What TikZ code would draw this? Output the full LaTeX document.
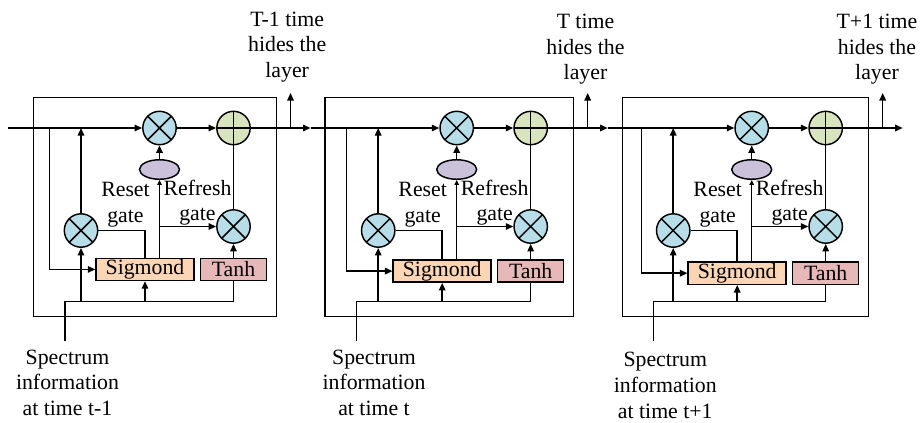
\documentclass[tikz,border=0pt]{standalone}
\usepackage{fontspec}
\setmainfont{Liberation Serif}
\usetikzlibrary{arrows.meta,shapes.geometric}
\definecolor{multfill}{HTML}{B7DEE8}
\definecolor{plusfill}{HTML}{D7E4BD}
\definecolor{ovalfill}{HTML}{CCC1DA}
\definecolor{sigfill}{HTML}{FCD5B5}
\definecolor{tanhfill}{HTML}{E6B9B8}
\begin{document}
\begin{tikzpicture}[x=1pt,y=-1pt,line width=1.45pt,
  >={Triangle[length=7.5pt,width=6.5pt]},
  txt/.style={font=\fontsize{21.8}{25.7}\selectfont},
  % multi-line labels are placed by the baseline of their last line
  lbl/.style={txt,align=center,inner sep=0pt,anchor=base},
  mult/.style={circle,draw,fill=multfill,minimum size=33.4pt,inner sep=0pt,
    path picture={\draw (path picture bounding box.north west) -- (path picture bounding box.south east)
                        (path picture bounding box.north east) -- (path picture bounding box.south west);}},
  plus/.style={circle,draw,fill=plusfill,minimum size=33.4pt,inner sep=0pt,
    path picture={\draw (path picture bounding box.north) -- (path picture bounding box.south)
                        (path picture bounding box.west) -- (path picture bounding box.east);}},
  gateoval/.style={ellipse,draw,fill=ovalfill,minimum width=40pt,minimum height=19.5pt,inner sep=0pt},
  actbox/.style={rectangle,draw,txt,minimum height=22.2pt,inner sep=0pt},
  smalltip/.style={-{Triangle[length=5pt,width=4.5pt]}}]

\useasboundingbox (0,0) rectangle (921,423);

% one GRU cell per step: index / circle x / box left / box right / row shift /
% input x / top label x,y / bottom label x,y / top text / time index
\foreach \i/\c/\bl/\br/\dy/\ix/\tx/\ty/\bx/\by/\tl/\bt in {
  1/159.5/33.3/276.7/0/65/287.2/77.5/67.5/415.4/T-1 time/t-1,
  2/456.7/325/573.3/1.7/356.7/585.5/79.8/374/415.4/T time/t,
  3/751.7/622.7/868.3/3.8/653.3/877/79.8/665.3/418/T+1 time/t+1}{
  % cell frame
  \draw (\bl,97.3) rectangle (\br,316.7);
  % operators and gates
  \node[mult] (m\i) at (\c,128) {};
  \node[plus] (p\i) at (\c+74,128) {};
  \node[gateoval] (e\i) at (\c,169.5) {};
  \node[mult] (l\i) at (\c-78.5,230.5) {};
  \node[mult] (r\i) at (\c+74,226.5) {};
  \node[actbox,fill=sigfill,minimum width=98pt] (s\i) at (\c-14.5,269.4+\dy) {Sigmond};
  \node[actbox,fill=tanhfill,minimum width=66pt] (h\i) at (\c+74,269.4+\dy) {Tanh};
  % junction points
  \coordinate (b\i) at (\c-110,128);
  \coordinate (in\i) at (\ix,340.7);
  \coordinate (j\i) at (\ix,301.7);
  \coordinate (u\i) at (\c+131,128);
  \coordinate (ut\i) at (\c+131,93);
  \coordinate (t\i) at (\c+151,128);
  % hidden state path
  \draw[->] (m\i.east) -- (p\i.west);
  \draw[->] (p\i.east) -- (t\i);
  \draw[->] (u\i) -- (ut\i);
  \draw[->] (b\i) |- (s\i.west);
  % input bus
  \draw (in\i) -- (j\i) -| (h\i.south);
  \draw[->] (l\i.south |- j\i) -- (l\i.south);
  \draw[->] (s\i.south |- j\i) -- (s\i.south);
  % gate connections
  \draw[->] (l\i.north) -- (l\i.north |- m\i.center);
  \draw (l\i.east) -| (s\i.north);
  \draw[smalltip] (e\i.south |- s\i.north) -- (e\i.south);
  \draw[->] (e\i.south |- r\i.west) -- (r\i.west);
  \draw[->] (e\i.north) -- (m\i.south);
  \draw[->] (h\i.north) -- (r\i.south);
  \draw (r\i.north) -- (p\i.south);
  % labels
  \node[lbl] (rs\i) at (\c-34,222.4) {Reset\\gate};
  \node[lbl] (rf\i) at (\c+38,220.7) {Refresh\\gate};
  \node[lbl] (hl\i) at (\tx,\ty) {\tl\\hides the\\layer};
  \node[lbl] (sp\i) at (\bx,\by) {Spectrum\\information\\at time \bt};
}
\coordinate (start) at (8,128);
\draw[->] (start) -- (m1.west);
\draw[->] (t1) -- (m2.west);
\draw[->] (t2) -- (m3.west);
\end{tikzpicture}
\end{document}
